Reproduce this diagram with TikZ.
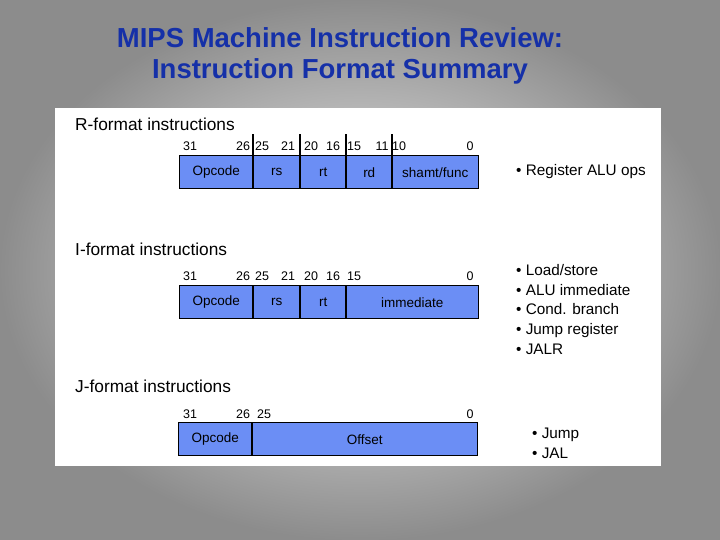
\documentclass[tikz,border=0pt]{standalone}
\usepackage{fontspec}
\setmainfont{Liberation Sans}
\begin{document}
\begin{tikzpicture}[x=1pt,y=1pt,
  fld/.style={draw=black,line width=0.5pt,fill=boxblue,minimum height=33pt,anchor=south west,inner sep=0pt,font=\fontsize{13.5}{15}\selectfont},
  bit/.style={font=\fontsize{12.5}{14}\selectfont,inner sep=0pt},
  hd/.style={font=\fontsize{17.3}{20}\selectfont,anchor=west,inner sep=0pt},
  note/.style={font=\fontsize{15.3}{19.8}\selectfont,anchor=north west,align=left,inner sep=0pt},
  tick/.style={line width=1.2pt}]
\definecolor{boxblue}{HTML}{6B8EF5}
\definecolor{titleblue}{HTML}{1530A8}
\useasboundingbox (0,0) rectangle (720,540);
\shade[inner color=white!95!black, outer color=black!45] (0,0) rectangle (720,540);
\node[font=\bfseries\fontsize{27.5}{31}\selectfont,text=titleblue,align=center] (title) at (340,484) {MIPS Machine Instruction Review:\\Instruction Format Summary};
\fill[white] (55,74) rectangle (661,432);
% R-format
\node[hd] (rh) at (75,416) {R-format instructions};
\node[fld,minimum width=74pt] (r1) at (179,351) {\raisebox{-2pt}{Opcode}};
\node[fld,minimum width=47pt] (r2) at (253,351) {\raisebox{-2pt}{rs}};
\node[fld,minimum width=46pt] (r3) at (300,351) {\raisebox{-2pt}{rt}};
\node[fld,minimum width=46pt] (r4) at (346,351) {\raisebox{-2pt}{rd}};
\node[fld,minimum width=86pt] (r5) at (392,351) {\raisebox{-4pt}{shamt/func}};
\foreach \x in {253,300,346,392} \draw[tick] (\x,351) -- (\x,406);
\foreach \t/\x in {31/190,26/243,25/262,21/288,20/311,16/333,15/354,11/382,10/399,0/470}
  \node[bit] (rb\t) at (\x,394) {\t};
\node[note] (rn) at (516,376) {• Register ALU ops};
% I-format
\node[hd] (ih) at (75,291) {I-format instructions};
\node[fld,minimum width=74pt] (i1) at (179,221) {\raisebox{-2pt}{Opcode}};
\node[fld,minimum width=47pt] (i2) at (253,221) {\raisebox{-2pt}{rs}};
\node[fld,minimum width=46pt] (i3) at (300,221) {\raisebox{-2pt}{rt}};
\node[fld,minimum width=132pt] (i4) at (346,221) {\raisebox{-2pt}{immediate}};
\foreach \x in {253,300,346} \draw[tick] (\x,221) -- (\x,254);
\foreach \t/\x in {31/190,26/243,25/262,21/288,20/311,16/333,15/354,0/470}
  \node[bit] (ib\t) at (\x,264) {\t};
\node[note] (in) at (516,276) {• Load/store\\• ALU immediate\\• Cond. branch\\• Jump register\\• JALR};
% J-format
\node[hd] (jh) at (75,154) {J-format instructions};
\node[fld,minimum width=74pt] (j1) at (178,84) {\raisebox{-2pt}{Opcode}};
\node[fld,minimum width=225pt] (j2) at (252,84) {\raisebox{-2pt}{Offset}};
\draw[tick] (252,84) -- (252,117);
\foreach \t/\x in {31/190,26/243,25/264,0/470}
  \node[bit] (jb\t) at (\x,126) {\t};
\node[note] (jn) at (532,112) {• Jump\\• JAL};
\end{tikzpicture}
\end{document}
